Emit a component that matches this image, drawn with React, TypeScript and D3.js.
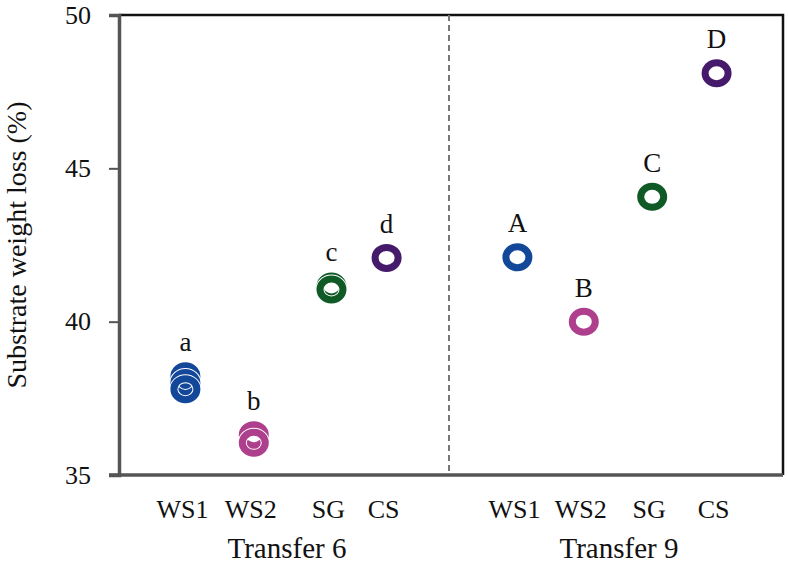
import React, { useRef, useEffect } from 'react';
import * as d3 from 'd3';

// x positions are in axis units (domain 0..10)
const categories = ['WS1', 'WS2', 'SG', 'CS'];
const groups = ['Transfer 6', 'Transfer 9'];
const catX6 = [1, 2.03, 3.2, 4.03];
const catX9 = [6, 7, 8.03, 9];
const groupX = [2.53, 7.53];
const letters6 = ['a', 'b', 'c', 'd'];
const letters9 = ['A', 'B', 'C', 'D'];
const colors = ['#12479a', '#ad3f8c', '#0f5a26', '#461a6b'];
// replicate values per category
const values6 = [[38.22, 38.0, 37.8], [36.3, 36.05], [41.15, 41.05], [42.08]];
const values9 = [[42.1], [40.0], [44.07], [48.1]];
const yTicks = [35, 40, 45, 50];

const W = 788;
const H = 569;
const margin = { top: 15, right: 5, bottom: 94, left: 119 };

export default function App() {
  const svgRef = useRef<SVGSVGElement>(null);

  useEffect(() => {
    if (!svgRef.current) return;
    const svg = d3.select(svgRef.current);
    svg.selectAll('*').remove();

    const x = d3.scaleLinear().domain([0, 10]).range([margin.left, W - margin.right]);
    const y = d3.scaleLinear().domain([35, 50]).range([H - margin.bottom, margin.top]);
    const font = '"Liberation Serif", "Times New Roman", serif';

    // frame (top and right in black)
    svg.append('path')
      .attr('d', `M${x(0)},${y(50)}H${x(10)}V${y(35)}`)
      .attr('fill', 'none')
      .attr('stroke', '#111')
      .attr('stroke-width', 2.5);

    // y axis
    const yAxis = svg.append('g')
      .attr('transform', `translate(${x(0)},0)`)
      .call(d3.axisLeft(y).tickValues(yTicks).tickSize(10).tickFormat(d3.format('d')));
    yAxis.select('.domain').attr('stroke', '#555').attr('stroke-width', 3.5);
    yAxis.selectAll('.tick line').attr('stroke', '#555').attr('stroke-width', 2);
    yAxis.selectAll('.tick text')
      .attr('x', -28)
      .attr('font-family', font)
      .attr('font-size', 26)
      .attr('fill', '#111');

    // bottom axis line
    svg.append('line')
      .attr('x1', x(0) - 10).attr('x2', x(10))
      .attr('y1', y(35)).attr('y2', y(35))
      .attr('stroke', '#555').attr('stroke-width', 3.5);

    // separator
    svg.append('line')
      .attr('x1', x(4.97)).attr('x2', x(4.97))
      .attr('y1', y(50)).attr('y2', y(35))
      .attr('stroke', '#777')
      .attr('stroke-width', 2)
      .attr('stroke-dasharray', '6,4');

    // y title
    svg.append('text')
      .attr('transform', `translate(26,${(y(50) + y(35)) / 2}) rotate(-90)`)
      .attr('text-anchor', 'middle')
      .attr('font-family', font)
      .attr('font-size', 28)
      .attr('fill', '#111')
      .text('Substrate weight loss (%)');

    const drawGroup = (catX: number[], vals: number[][], letters: string[], gi: number) => {
      const g = svg.append('g');
      vals.forEach((vs, i) => {
        // each marker: thin white halo, then the coloured ring
        const m = g.selectAll(null)
          .data(vs)
          .enter()
          .append('g')
          .attr('transform', (d) => `translate(${x(catX[i])},${y(d)})`);
        m.append('ellipse')
          .attr('rx', 11.5)
          .attr('ry', 10.5)
          .attr('fill', 'none')
          .attr('stroke', '#fff')
          .attr('stroke-width', 9);
        m.append('ellipse')
          .attr('rx', 11.5)
          .attr('ry', 10.5)
          .attr('fill', 'none')
          .attr('stroke', colors[i])
          .attr('stroke-width', 7);
        g.append('text')
          .attr('x', x(catX[i]))
          .attr('y', y(d3.max(vs) as number) - 25)
          .attr('text-anchor', 'middle')
          .attr('font-family', font)
          .attr('font-size', 27)
          .attr('fill', '#111')
          .text(letters[i]);
        g.append('text')
          .attr('x', x(catX[i]) - 3)
          .attr('y', 518)
          .attr('text-anchor', 'middle')
          .attr('font-family', font)
          .attr('font-size', 26)
          .attr('fill', '#111')
          .text(categories[i]);
      });
      g.append('text')
        .attr('x', x(groupX[gi]))
        .attr('y', 558)
        .attr('text-anchor', 'middle')
        .attr('font-family', font)
        .attr('font-size', 29)
        .attr('fill', '#111')
        .text(groups[gi]);
    };

    drawGroup(catX6, values6, letters6, 0);
    drawGroup(catX9, values9, letters9, 1);
  }, []);

  return (
    <div style={{ position: 'absolute', left: 0, top: 0 }}>
      <svg ref={svgRef} width={W} height={H} style={{ display: 'block', background: '#fff' }} />
    </div>
  );
}
